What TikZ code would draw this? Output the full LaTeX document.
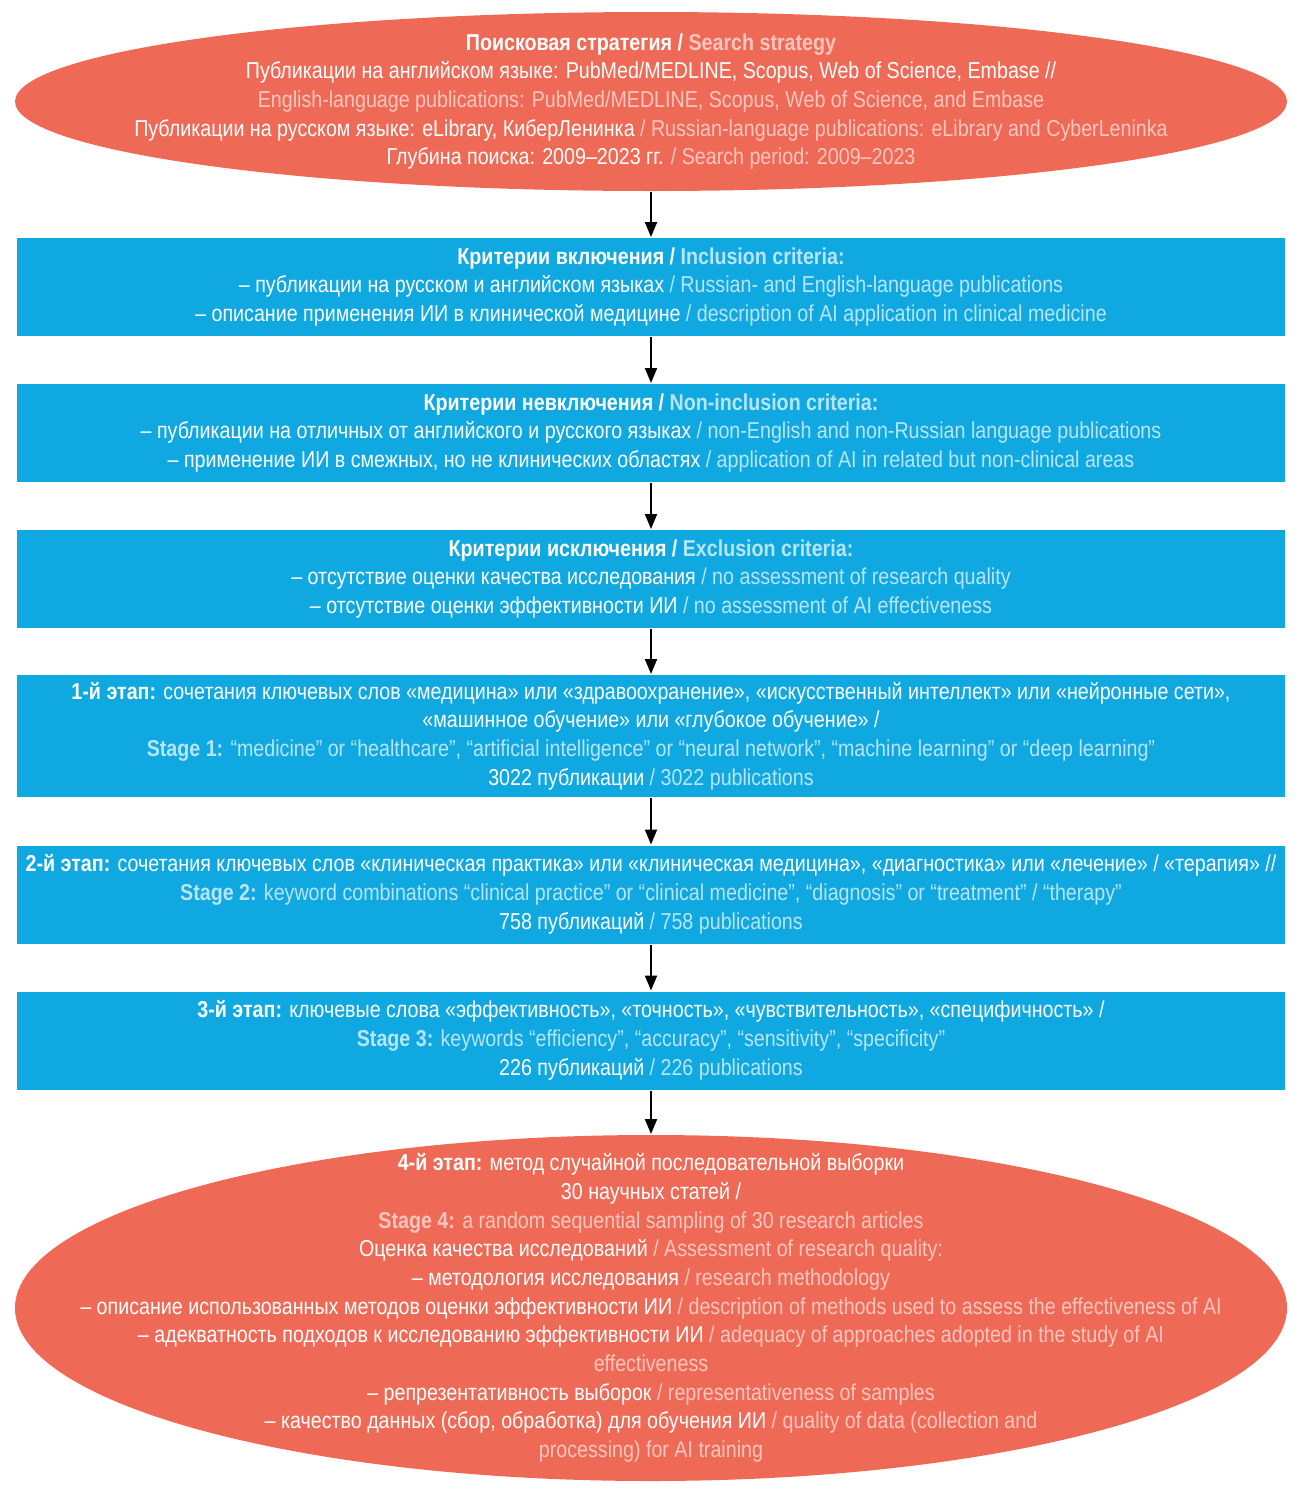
\documentclass[tikz,border=0pt]{standalone}
\usepackage{fontspec}
\setmainfont[FakeStretch=0.855]{Liberation Sans}
\usetikzlibrary{shapes.geometric}
\usetikzlibrary{arrows.meta}
\definecolor{salmon}{RGB}{239,106,86}
\definecolor{cyanbox}{RGB}{16,168,225}
\colorlet{englR}{white!62!salmon}
\colorlet{englB}{white!70!cyanbox}
\colorlet{engl}{englB}
\newcommand{\en}[1]{{\color{engl}#1}}

\begin{document}
\begin{tikzpicture}[x=0.5pt, y=-0.5pt,
  ovalnode/.style={ellipse, fill=salmon, inner sep=0pt, minimum width=636pt},
  ovaltext/.style={text=white, inner sep=0pt, align=center, execute at begin node={\colorlet{engl}{englR}}},
  critbox/.style={rectangle, fill=cyanbox, text=white, inner sep=0pt, align=center,
    minimum width=634pt, minimum height=49pt, execute at begin node={\colorlet{engl}{englB}}},
  every node/.style={font=\fontsize{11.5}{14.35}\selectfont},
  >={Triangle[length=7.5pt,width=6pt]}, line width=1pt]
\useasboundingbox (0,0) rectangle (1300,1505);
\node[ovalnode, minimum height=89.5pt] (strat) at (651,101.5) {};
\node[ovaltext] (strattext) at (strat.center) {\textbf{Поисковая стратегия / \en{Search strategy}}\\
Публикации на английском языке: PubMed/MEDLINE, Scopus, Web of Science, Embase //\\
\en{English-language publications: PubMed/MEDLINE, Scopus, Web of Science, and Embase}\\
Публикации на русском языке: eLibrary, КиберЛенинка \en{/ Russian-language publications: eLibrary and CyberLeninka}\\
Глубина поиска: 2009–2023 гг. \en{/ Search period: 2009–2023}};
\node[critbox] (incl) at (651,287) {\textbf{Критерии включения / \en{Inclusion criteria:}}\\
– публикации на русском и английском языках \en{/ Russian- and English-language publications}\\
– описание применения ИИ в клинической медицине \en{/ description of AI application in clinical medicine}};
\node[critbox] (nonincl) at (651,433) {\textbf{Критерии невключения / \en{Non-inclusion criteria:}}\\
– публикации на отличных от английского и русского языках \en{/ non-English and non-Russian language publications}\\
– применение ИИ в смежных, но не клинических областях \en{/ application of AI in related but non-clinical areas}};
\node[critbox] (excl) at (651,579) {\textbf{Критерии исключения / \en{Exclusion criteria:}}\\
– отсутствие оценки качества исследования \en{/ no assessment of research quality}\\
– отсутствие оценки эффективности ИИ \en{/ no assessment of AI effectiveness}};
\node[critbox, minimum height=61pt] (stage1) at (651,736) {\textbf{1-й этап:} сочетания ключевых слов «медицина» или «здравоохранение», «искусственный интеллект» или «нейронные сети»,\\
«машинное обучение» или «глубокое обучение» /\\
\en{\textbf{Stage 1:} “medicine” or “healthcare”, “artificial intelligence” or “neural network”, “machine learning” or “deep learning”}\\
3022 публикации \en{/ 3022 publications}};
\node[critbox] (stage2) at (651,894.5) {\textbf{2-й этап:} сочетания ключевых слов «клиническая практика» или «клиническая медицина», «диагностика» или «лечение» / «терапия» //\\
\en{\textbf{Stage 2:} keyword combinations “clinical practice” or “clinical medicine”, “diagnosis” or “treatment” / “therapy”}\\
758 публикаций \en{/ 758 publications}};
\node[critbox] (stage3) at (651,1040.5) {\textbf{3-й этап:} ключевые слова «эффективность», «точность», «чувствительность», «специфичность» /\\
\en{\textbf{Stage 3:} keywords “efficiency”, “accuracy”, “sensitivity”, “specificity”}\\
226 публикаций \en{/ 226 publications}};
\node[ovalnode, minimum height=173pt] (stage4) at (651,1308) {};
\node[ovaltext] (stage4text) at (stage4.center) {\textbf{4-й этап:} метод случайной последовательной выборки\\
30 научных статей /\\
\en{\textbf{Stage 4:} a random sequential sampling of 30 research articles}\\
Оценка качества исследований \en{/ Assessment of research quality:}\\
– методология исследования \en{/ research methodology}\\
– описание использованных методов оценки эффективности ИИ \en{/ description of methods used to assess the effectiveness of AI}\\
– адекватность подходов к исследованию эффективности ИИ \en{/ adequacy of approaches adopted in the study of AI}\\
\en{effectiveness}\\
– репрезентативность выборок \en{/ representativeness of samples}\\
– качество данных (сбор, обработка) для обучения ИИ \en{/ quality of data (collection and}\\
\en{processing) for AI training}};
\draw[->] (strat) -- (incl);
\draw[->] (incl) -- (nonincl);
\draw[->] (nonincl) -- (excl);
\draw[->] (excl) -- (stage1);
\draw[->] (stage1) -- (stage2);
\draw[->] (stage2) -- (stage3);
\draw[->] (stage3) -- (stage4);
\end{tikzpicture}
\end{document}
